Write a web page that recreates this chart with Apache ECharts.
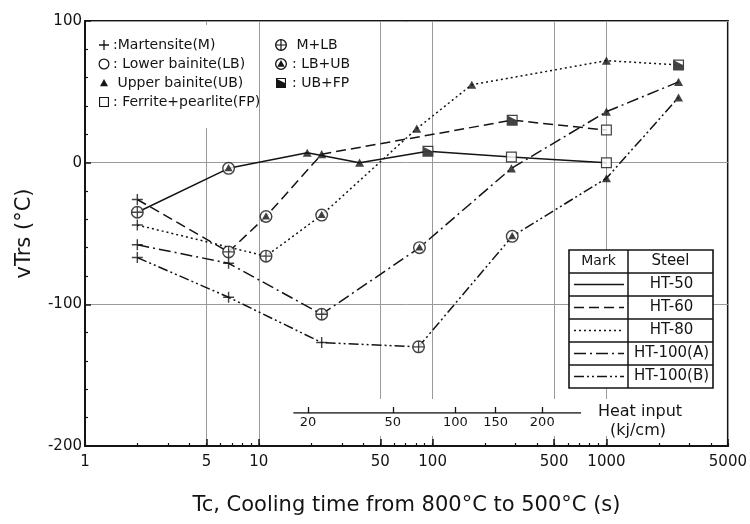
<!DOCTYPE html>
<html><head><meta charset="utf-8">
<script src="https://cdn.jsdelivr.net/npm/echarts@6/dist/echarts.min.js"></script>
<style>html,body{margin:0;padding:0;background:#fff}#c{width:750px;height:524px}</style>
</head><body><div id="c"></div>
<script>
// ---------------- data ----------------
const steels = ['HT-50', 'HT-60', 'HT-80', 'HT-100(A)', 'HT-100(B)'];
// cooling time Tc (s), vTrs (°C), microstructure mark
const ht50_t = [2, 6.7, 19, 38, 94, 284, 1000];
const ht50_v = [-35, -4, 7, 0, 8, 4, 0];
const ht50_m = ['MLB', 'LBUB', 'UB', 'UB', 'UBFP', 'FP', 'FP'];
const ht60_t = [2, 6.7, 11, 23, 287, 1000];
const ht60_v = [-26, -63, -38, 6, 30, 23];
const ht60_m = ['M', 'MLB', 'LBUB', 'UB', 'UBFP', 'FP'];
const ht80_t = [2, 11, 23, 81, 168, 1000, 2600];
const ht80_v = [-44, -66, -37, 24, 55, 72, 69];
const ht80_m = ['M', 'MLB', 'LBUB', 'UB', 'UB', 'UB', 'UBFP'];
const ht100a_t = [2, 6.7, 23, 84, 284, 1000, 2600];
const ht100a_v = [-58, -71, -107, -60, -4, 36, 57];
const ht100a_m = ['M', 'M', 'MLB', 'LBUB', 'UB', 'UB', 'UB'];
const ht100b_t = [2, 6.7, 23, 83, 287, 1000, 2600];
const ht100b_v = [-67, -95, -127, -130, -52, -11, 46];
const ht100b_m = ['M', 'M', 'M', 'MLB', 'LBUB', 'UB', 'UB'];

const xLabelTicks = [1, 5, 10, 50, 100, 500, 1000, 5000];
const xMinorTicks = [1,2,3,4,5,6,7,8,9,10,20,30,40,50,60,70,80,90,100,200,300,400,500,600,700,800,900,1000,2000,3000,4000,5000];
const yMin = -200, yMax = 100, yStep = 100;

// heat input scale drawn inside the plot (labels kJ/cm, positions as cooling time)
const heatLabels = [20, 50, 100, 150, 200];
const heatTc = [19.2, 59, 135, 230, 427];
const heatRangeTc = [15.8, 714];

// legend texts
const legendLeftMarks = ['M', 'LB', 'UB', 'FP'];
const legendLeftTexts = [':Martensite(M)', ': Lower bainite(LB)', ' Upper bainite(UB)', ': Ferrite+pearlite(FP)'];
const legendRightMarks = ['MLB', 'LBUB', 'UBFP'];
const legendRightTexts = [' M+LB', ': LB+UB', ': UB+FP'];

// ---------------- styles ----------------
const INK = '#141414';
const FONT = 'DejaVu Sans';
const dashes = { 'HT-50': 'solid', 'HT-60': [10, 5], 'HT-80': [2, 3], 'HT-100(A)': [12, 4, 2, 4], 'HT-100(B)': [10, 3, 2, 3, 2, 3] };
const RING = 'M0,10A10,10,0,1,0,20,10A10,10,0,1,0,0,10ZM2.2,10A7.8,7.8,0,1,1,17.8,10A7.8,7.8,0,1,1,2.2,10Z';
const SQR = 'M0,0L0,20L20,20L20,0ZM2.2,2.2L17.8,2.2L17.8,17.8L2.2,17.8Z';
const SYM = {
  M: 'M8.7,0L8.7,20L11.3,20L11.3,0ZM0,8.7L0,11.3L20,11.3L20,8.7Z',
  LB: RING,
  UB: 'M10,0L0,18L20,18Z',
  FP: SQR,
  MLB: RING + 'M9,2L9,18L11,18L11,2ZM2,9L2,11L18,11L18,9Z',
  LBUB: RING + 'M10,3.5L3.8,14.5L16.2,14.5Z',
  UBFP: SQR + 'M2,2L2,18L18,18L18,10Z'
};
const SIZE = { M: 11, LB: 12, UB: 9, FP: 11, MLB: 13, LBUB: 13, UBFP: 11 };
const BASE = { LB: 'circle', MLB: 'circle', LBUB: 'circle', FP: 'rect', UBFP: 'rect' };

// register marker shapes for the graphic legend
Object.keys(SYM).forEach(k => {
  try { echarts.graphic.registerShape('mk_' + k, echarts.graphic.extendPath(SYM[k], {})); } catch (e) {}
});

const groups = [
  { name: steels[0], t: ht50_t, v: ht50_v, m: ht50_m },
  { name: steels[1], t: ht60_t, v: ht60_v, m: ht60_m },
  { name: steels[2], t: ht80_t, v: ht80_v, m: ht80_m },
  { name: steels[3], t: ht100a_t, v: ht100a_v, m: ht100a_m },
  { name: steels[4], t: ht100b_t, v: ht100b_v, m: ht100b_m }
];

const G = { left: 85, right: 22, top: 21, bottom: 78 };

const series = [];
groups.forEach(g => {
  series.push({
    type: 'line', name: g.name, xAxisIndex: 0, yAxisIndex: 0,
    data: g.t.map((t, i) => [t, g.v[i]]),
    symbol: 'none', silent: true, z: 2,
    lineStyle: { color: INK, width: 1.5, type: dashes[g.name] }
  });
});
const baseData = [], inkData = [];
groups.forEach(g => g.t.forEach((t, i) => {
  const m = g.m[i];
  inkData.push({ value: [t, g.v[i]], symbol: 'path://' + SYM[m], symbolSize: SIZE[m] });
  if (BASE[m]) baseData.push({ value: [t, g.v[i]], symbol: BASE[m], symbolSize: SIZE[m] - 1 });
}));
series.push({ type: 'scatter', xAxisIndex: 0, yAxisIndex: 0, data: baseData, itemStyle: { color: '#fff' }, silent: true, z: 3 });
series.push({ type: 'scatter', xAxisIndex: 0, yAxisIndex: 0, data: inkData, symbolKeepAspect: true, itemStyle: { color: INK, borderWidth: 0 }, silent: true, z: 4 });
series.push({
  type: 'line', xAxisIndex: 1, yAxisIndex: 1, data: heatRangeTc.map(t => [t, 0]),
  symbol: 'none', silent: true, z: 12, lineStyle: { color: INK, width: 1.3 }
});

// ----- graphic: legend block, heat-input band/caption, steel table -----
const graphic = [];
graphic.push({ type: 'rect', shape: { x: 90, y: 25, width: 160, height: 103 }, style: { fill: '#fff' }, z: 1, silent: true });
graphic.push({ type: 'rect', shape: { x: 288, y: 399, width: 402, height: 37 }, style: { fill: '#fff' }, z: 1, silent: true });
const rowY0 = 45, rowDy = 19;
function markEl(m, cx, cy, sz) {
  return { type: 'mk_' + m, x: cx - sz / 2, y: cy - sz / 2, scaleX: sz / 20, scaleY: sz / 20, style: { fill: INK }, z: 5, silent: true };
}
const legFont = '14px "' + FONT + '"';
legendLeftMarks.forEach((m, i) => {
  graphic.push(markEl(m, 104, rowY0 + i * rowDy, SIZE[m] - 1));
  graphic.push({ type: 'text', x: 113, y: rowY0 + i * rowDy, style: { text: legendLeftTexts[i], font: legFont, fill: INK, verticalAlign: 'middle' }, z: 5, silent: true });
});
legendRightMarks.forEach((m, i) => {
  graphic.push(markEl(m, 281, rowY0 + i * rowDy, SIZE[m] - 1));
  graphic.push({ type: 'text', x: 292, y: rowY0 + i * rowDy, style: { text: legendRightTexts[i], font: legFont, fill: INK, verticalAlign: 'middle' }, z: 5, silent: true });
});
graphic.push({ type: 'text', x: 640, y: 412, style: { text: 'Heat input', font: '16px "' + FONT + '"', fill: INK, align: 'center', verticalAlign: 'middle' }, z: 5, silent: true });
graphic.push({ type: 'text', x: 638, y: 431, style: { text: '(kj/cm)', font: '16px "' + FONT + '"', fill: INK, align: 'center', verticalAlign: 'middle' }, z: 5, silent: true });

// table
const TX = 569, TY = 250, TW = 144, TRH = 23, TC = 628;
const TH = TRH * (steels.length + 1);
graphic.push({ type: 'rect', shape: { x: TX, y: TY, width: TW, height: TH }, style: { fill: '#fff', stroke: INK, lineWidth: 1.6 }, z: 6, silent: true });
graphic.push({ type: 'line', shape: { x1: TC, y1: TY, x2: TC, y2: TY + TH }, style: { stroke: INK, lineWidth: 1.5 }, z: 6, silent: true });
for (let r = 1; r <= steels.length; r++) {
  graphic.push({ type: 'line', shape: { x1: TX, y1: TY + r * TRH, x2: TX + TW, y2: TY + r * TRH }, style: { stroke: INK, lineWidth: 1.4 }, z: 6, silent: true });
}
graphic.push({ type: 'text', x: (TX + TC) / 2, y: TY + TRH / 2, style: { text: 'Mark', font: '14px "' + FONT + '"', fill: INK, align: 'center', verticalAlign: 'middle' }, z: 7, silent: true });
graphic.push({ type: 'text', x: (TC + TX + TW) / 2, y: TY + TRH / 2, style: { text: 'Steel', font: '15px "' + FONT + '"', fill: INK, align: 'center', verticalAlign: 'middle' }, z: 7, silent: true });
steels.forEach((s, i) => {
  const cy = TY + (i + 1.5) * TRH;
  const d = dashes[s];
  graphic.push({ type: 'line', shape: { x1: TX + 5, y1: cy, x2: TC - 4, y2: cy }, style: { stroke: INK, lineWidth: 1.5, lineDash: d === 'solid' ? null : d }, z: 7, silent: true });
  graphic.push({ type: 'text', x: (TC + TX + TW) / 2 + 1, y: cy, style: { text: s, font: '15px "' + FONT + '"', fill: INK, align: 'center', verticalAlign: 'middle' }, z: 7, silent: true });
});

const option = {
  animation: false,
  backgroundColor: '#fff',
  textStyle: { fontFamily: FONT, color: INK },
  grid: [
    { left: G.left, right: G.right, top: G.top, bottom: G.bottom, show: true, borderColor: INK, borderWidth: 2, backgroundColor: 'transparent', containLabel: false },
    { left: G.left, right: G.right, top: 412, height: 1, show: false },
    { left: G.left, right: G.right, top: G.top, bottom: G.bottom, show: false }
  ],
  xAxis: [
    {
      gridIndex: 0, type: 'log', logBase: 10, min: 1, max: 5000, position: 'bottom',
      name: 'Tc, Cooling time from 800°C to 500°C (s)', nameLocation: 'middle', nameGap: 49,
      nameTextStyle: { fontSize: 21, color: INK, fontFamily: FONT },
      axisLine: { show: true, onZero: false, lineStyle: { color: INK, width: 2 } },
      axisTick: { show: true, inside: true, length: 7, customValues: xLabelTicks, lineStyle: { color: INK, width: 1.5 } },
      axisLabel: { customValues: xLabelTicks, fontSize: 15, color: INK, margin: 9, fontFamily: FONT, formatter: v => String(Math.round(v)) },
      splitLine: { show: true, lineStyle: { color: '#9a9a9a', width: 1 } },
      minorTick: { show: false }, minorSplitLine: { show: false }
    },
    {
      gridIndex: 1, type: 'log', logBase: 10, min: 1, max: 5000, z: 12, position: 'bottom',
      axisLine: { show: false, onZero: false },
      axisTick: { show: true, inside: true, length: 6, customValues: heatTc, lineStyle: { color: INK, width: 1.3 } },
      axisLabel: {
        customValues: heatTc, fontSize: 13, color: INK, margin: 3, fontFamily: FONT,
        formatter: v => {
          let best = 0, bd = Infinity;
          heatTc.forEach((h, i) => { const d = Math.abs(Math.log(h) - Math.log(v)); if (d < bd) { bd = d; best = i; } });
          return String(heatLabels[best]);
        }
      },
      splitLine: { show: false }
    },
    {
      gridIndex: 2, type: 'log', logBase: 10, min: 1, max: 5000, position: 'bottom',
      axisLine: { show: false, onZero: false },
      axisTick: { show: true, inside: true, length: 3, customValues: xMinorTicks, lineStyle: { color: INK, width: 1.2 } },
      axisLabel: { show: false },
      splitLine: { show: false }
    }
  ],
  yAxis: [
    {
      gridIndex: 0, type: 'value', min: yMin, max: yMax, interval: yStep,
      name: 'vTrs (°C)', nameLocation: 'middle', nameGap: 50,
      nameTextStyle: { fontSize: 21, color: INK, fontFamily: FONT },
      axisLine: { show: true, onZero: false, lineStyle: { color: INK, width: 2 } },
      axisTick: { show: true, inside: true, length: 6, lineStyle: { color: INK, width: 1.5 } },
      minorTick: { show: true, splitNumber: 5, length: 3, lineStyle: { color: INK, width: 1.2 } },
      axisLabel: { fontSize: 15, color: INK, margin: 3, fontFamily: FONT },
      splitLine: { show: true, lineStyle: { color: '#9a9a9a', width: 1 } }
    },
    { gridIndex: 1, type: 'value', min: 0, max: 1, show: false, axisLine: { onZero: false } },
    { gridIndex: 2, type: 'value', min: yMin, max: yMax, show: false, axisLine: { onZero: false } }
  ],
  graphic: graphic,
  series: series
};
const chart = echarts.init(document.getElementById('c'));
chart.setOption(option);
</script>
</body></html>
